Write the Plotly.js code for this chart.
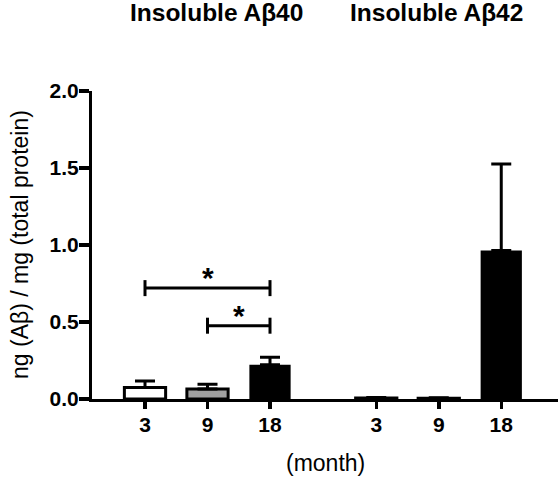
<!DOCTYPE html>
<html>
<head>
<meta charset="utf-8">
<script src="https://cdn.plot.ly/plotly-3.0.1.min.js"></script>
<style>html,body{margin:0;padding:0;background:#fff;}#chart{width:558px;height:479px;}</style>
</head>
<body>
<div id="chart"></div>
<script>
// ---- data ----
const months = ["3", "9", "18"];
const groupTitles = ["Insoluble Aβ40", "Insoluble Aβ42"];
const groupOffset = [0, 3.7];           // x start of each group
const ab40Mean = [0.075, 0.065, 0.222];
const ab40Sem  = [0.042, 0.030, 0.049];
const ab42Mean = [0.006, 0.005, 0.964];
const ab42Sem  = [0.003, 0.003, 0.562];
const yTicks = [0, 0.5, 1.0, 1.5, 2.0];
const yTickText = ["0.0", "0.5", "1.0", "1.5", "2.0"];
// significance brackets (Aβ40): [fromIndex, toIndex, height]
const sigFrom = [0, 1];
const sigTo = [2, 2];
const sigHeight = [0.72, 0.476];
const sigLabel = ["*", "*"];

// ---- styles ----
const fills = ["#ffffff", "#a0a0a0", "#000000"];
const barWidth = 0.66;
const FONT = "Liberation Sans, Arial, sans-serif";

const traces = months.map((m, i) => ({
  type: "bar",
  x: [groupOffset[0] + i, groupOffset[1] + i],
  y: [ab40Mean[i], ab42Mean[i]],
  width: barWidth,
  marker: { color: fills[i], line: { color: "#000", width: i === 2 ? 0 : 3 } },
  error_y: {
    type: "data", symmetric: false,
    array: [ab40Sem[i], ab42Sem[i]],
    arrayminus: [0, 0],
    color: "#000", thickness: 3, width: 10
  },
  hoverinfo: "none",
  showlegend: false
}));

const tickVals = [], tickText = [];
groupOffset.forEach(g => months.forEach((m, i) => { tickVals.push(g + i); tickText.push("<b>" + m + "</b>"); }));

const ypx = 2.0 / 308; // data units per px (for bracket end ticks)
const shapes = [];
const annotations = [];
sigFrom.forEach((f, k) => {
  const x0 = groupOffset[0] + f, x1 = groupOffset[0] + sigTo[k], h = sigHeight[k];
  const lw = { color: "#000", width: 3 };
  shapes.push({ type: "line", xref: "x", yref: "y", x0: x0, x1: x1, y0: h, y1: h, line: lw });
  shapes.push({ type: "line", xref: "x", yref: "y", x0: x0, x1: x0, y0: h - 8 * ypx, y1: h + 8 * ypx, line: lw });
  shapes.push({ type: "line", xref: "x", yref: "y", x0: x1, x1: x1, y0: h - 8 * ypx, y1: h + 8 * ypx, line: lw });
  annotations.push({ x: (x0 + x1) / 2, y: h, xref: "x", yref: "y", text: "<b>" + sigLabel[k] + "</b>", showarrow: false,
    yanchor: "bottom", yshift: -8, font: { family: FONT, size: 30, color: "#000" } });
});
const titleX = [1.15, 4.67];
groupTitles.forEach((t, k) => {
  annotations.push({ x: titleX[k], xref: "x", y: 1, yref: "paper", yshift: 79, yanchor: "middle",
    text: "<b>" + t + "</b>", showarrow: false,
    font: { family: FONT, size: 24.5, color: "#000" } });
});
annotations.push({ x: 0.5, xref: "paper", y: 0, yref: "paper", yshift: -64, yanchor: "middle",
  text: "(month)", showarrow: false, font: { family: FONT, size: 23, color: "#000" } });
annotations.push({ x: 0, xref: "paper", xshift: -72, xanchor: "center", y: 0.5, yref: "paper", yanchor: "middle",
  textangle: -90, text: "ng (Aβ) / mg (total protein)", showarrow: false,
  font: { family: FONT, size: 23, color: "#000" } });

const layout = {
  width: 558, height: 479,
  margin: { l: 92, r: 0, t: 91, b: 80 },
  paper_bgcolor: "#fff", plot_bgcolor: "#fff",
  barmode: "overlay",
  font: { family: FONT, color: "#000" },
  xaxis: {
    range: [-0.848, 6.608], tickvals: tickVals, ticktext: tickText,
    showline: true, linecolor: "#000", linewidth: 3,
    ticks: "outside", ticklen: 7, tickwidth: 3.5, tickcolor: "#000",
    ticklabelstandoff: -2,
    showgrid: false, zeroline: false, fixedrange: true,
    tickfont: { family: FONT, size: 21, color: "#000" }
  },
  yaxis: {
    range: [0, 2.0], tickvals: yTicks, ticktext: yTickText.map(s => "<b>" + s + "</b>"),
    showline: true, linecolor: "#000", linewidth: 3,
    ticks: "outside", ticklen: 10, tickwidth: 3.5, tickcolor: "#000",
    ticklabelstandoff: -4,
    showgrid: false, zeroline: false, fixedrange: true,
    tickfont: { family: FONT, size: 21, color: "#000" }
  },
  shapes: shapes,
  annotations: annotations
};

Plotly.newPlot("chart", traces, layout, { displayModeBar: false, staticPlot: true });
</script>
</body>
</html>
